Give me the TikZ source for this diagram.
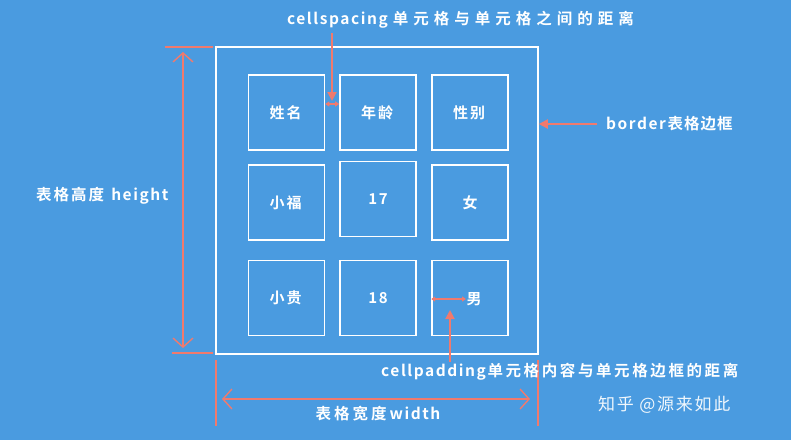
\documentclass[tikz,border=0pt]{standalone}
\usepackage{fontspec}
\setmainfont{Noto Sans CJK SC}[BoldFont=* Bold,LetterSpace=10]
\usetikzlibrary{arrows.meta}
\definecolor{bg}{HTML}{4A9BE0}
\definecolor{sal}{HTML}{F07A6E}
\newdimen\spk
\def\spacedi#1{\ifx#1\relax\else#1\kern\spk\expandafter\spacedi\fi}
\newcommand\spd[2]{\spk=#1\spacedi#2\relax\unskip}
\begin{document}
\begin{tikzpicture}[x=1pt,y=-1pt,
  cellbox/.style={draw=white,line width=1.6pt,minimum width=76pt,minimum height=75pt,text=white,font=\bfseries\fontsize{15}{15}\selectfont},
  lbl/.style={text=white,font=\bfseries\fontsize{15.5}{15}\selectfont,inner sep=0pt},
  dim/.style={draw=sal,line width=1.4pt},
  open/.style={dim,{Straight Barb[length=9pt,width=20pt]}-{Straight Barb[length=9pt,width=20pt]}},
  filled/.style={dim,line width=2pt,-{Triangle[length=9pt,width=9pt]}},
  small/.style={dim,line width=1.4pt,{Triangle[length=4pt,width=5pt]}-{Triangle[length=4pt,width=5pt]}}]
\fill[bg] (0,0) rectangle (791,440);
\useasboundingbox (0,0) rectangle (791,440);
\node[draw=white,line width=1.6pt,minimum width=322pt,minimum height=307pt,inner sep=0pt] (tbl) at (377,200.5) {};
\node[cellbox] (c11) at (286.5,112.5) {\spd{2pt}{姓名}};
\node[cellbox] (c12) at (378,112.5) {\spd{2pt}{年龄}};
\node[cellbox] (c13) at (470,112.5) {\spd{2pt}{性别}};
\node[cellbox] (c21) at (286.5,202.5) {\spd{2pt}{小福}};
\node[cellbox] (c22) at (378,199) {17};
\node[cellbox] (c23) at (470,202.5) {女};
\node[cellbox] (c31) at (286.5,298) {\spd{2pt}{小贵}};
\node[cellbox] (c32) at (378,298) {18};
\node[cellbox] (c33) at (470,298) {};
\node[text=white,font=\bfseries\fontsize{15}{15}\selectfont] (nan) at (474,299) {男};
% height
\coordinate (h1a) at (165,47); \coordinate (h1b) at (213,47);
\coordinate (h2a) at (172,353); \coordinate (h2b) at (213,353);
\draw[dim] (h1a) -- (h1b); \draw[dim] (h2a) -- (h2b);
\coordinate (ht) at (183,52); \coordinate (hb) at (183,348);
\draw[open] (ht) -- (hb);
\node[lbl,anchor=west] (hl) at (36,196) {\spd{2pt}{表格高度} height};
% width
\coordinate (w1a) at (216,360); \coordinate (w1b) at (216,426);
\coordinate (w2a) at (538,360); \coordinate (w2b) at (538,426);
\draw[dim] (w1a) -- (w1b); \draw[dim] (w2a) -- (w2b);
\coordinate (wl) at (222,399); \coordinate (wr) at (530,399);
\draw[open] (wl) -- (wr);
\node[lbl] (wlab) at (378,414) {\spd{3pt}{表格宽度}width};
% cellspacing
\node[lbl] (cs) at (463,20) {cellspacing \spd{5pt}{单元格与单元格之间的距离}};
\coordinate (csa) at (332,33); \coordinate (csb) at (332,101);
\draw[filled] (csa) -- (csb);
\coordinate (s1) at (c11.east|-0,104); \coordinate (s2) at (c12.west|-0,104);
\draw[small] (s1) -- (s2);
% border
\node[lbl,anchor=west] (bd) at (606,124) {border\spd{1pt}{表格边框}};
\coordinate (bda) at (597,124);
\draw[filled] (bda) -- (tbl.east|-bda);
% cellpadding
\node[lbl,anchor=west] (cp) at (381,372) {cellpadding\spd{2.6pt}{单元格内容与单元格边框的距离}};
\coordinate (cpa) at (450,362); \coordinate (cpb) at (450,310);
\draw[filled] (cpa) -- (cpb);
\coordinate (p1) at (c33.west|-0,299); \coordinate (p2) at (466,299);
\draw[small] (p1) -- (p2);
% watermark
\node[lbl,anchor=west,font=\fontsize{17}{17}\selectfont,text=white!92!bg] (wm) at (598,405) {知乎 @源来如此};
\end{tikzpicture}
\end{document}
